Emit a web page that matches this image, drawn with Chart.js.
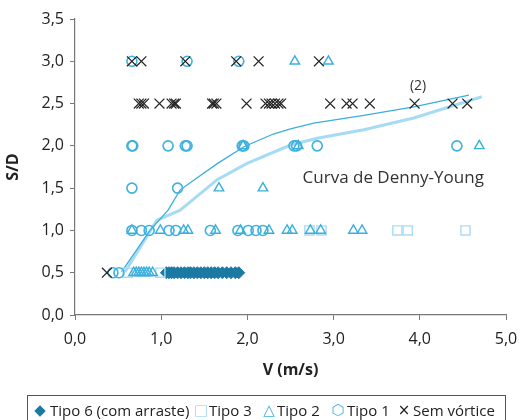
<!DOCTYPE html>
<html>
<head>
<meta charset="utf-8">
<script src="https://cdn.jsdelivr.net/npm/chart.js@4.4.1/dist/chart.umd.min.js"></script>
<style>
  body { margin: 0; background: #fff; }
  #wrap { position: relative; width: 529px; height: 420px; overflow: hidden; }
  #legend {
    position: absolute; left: 27px; top: 395px; width: 479px; height: 34px;
    border: 1px solid #555; box-sizing: border-box;
    font-family: "Open Sans", sans-serif; font-size: 15px; color: #222;
  }
  #legend span { position: absolute; top: 4px; white-space: nowrap; line-height: 20px; }
  #legend span.m { font-family: "DejaVu Sans", sans-serif; transform: translateX(-50%); }
</style>
</head>
<body>
<div id="wrap">
  <canvas id="chart" width="529" height="420"></canvas>
  <div id="legend">
    <span class="m" style="left:12px;color:#1b7aa3">◆</span><span style="left:22px">Tipo 6 (com arraste)</span>
    <span class="m" style="left:173px;color:#a9dbf3">□</span><span style="left:181px">Tipo 3</span>
    <span class="m" style="left:241px;color:#3aaedc">△</span><span style="left:249px">Tipo 2</span>
    <span class="m" style="left:310px;color:#3db1e0">⬡</span><span style="left:319px">Tipo 1</span>
    <span class="m" style="left:376px;color:#222">×</span><span style="left:385px">Sem vórtice</span>
  </div>
</div>
<script>
// Tipo 6 (com arraste)
const tipo6V  = [1.06, 1.09, 1.12, 1.15, 1.19, 1.23, 1.27, 1.31, 1.34, 1.38, 1.42, 1.46, 1.50, 1.54, 1.58, 1.62, 1.66, 1.71, 1.76, 1.81, 1.86, 1.90];
const tipo6SD = [0.5, 0.5, 0.5, 0.5, 0.5, 0.5, 0.5, 0.5, 0.5, 0.5, 0.5, 0.5, 0.5, 0.5, 0.5, 0.5, 0.5, 0.5, 0.5, 0.5, 0.5, 0.5];

// Tipo 3
const tipo3V  = [0.61, 0.99, 2.72, 2.86, 3.74, 3.86, 4.53];
const tipo3SD = [0.5, 0.5, 1.0, 1.0, 1.0, 1.0, 1.0];

// Tipo 2
const tipo2V  = [0.68, 0.71, 0.74, 0.77, 0.80, 0.83, 0.86, 0.90,
                 0.66, 0.99, 1.26, 1.31, 1.63, 1.92, 2.25, 2.46, 2.52, 2.73, 2.85, 3.23, 3.33,
                 1.67, 2.18,
                 1.95, 2.59, 4.69,
                 2.55, 2.94];
const tipo2SD = [0.5, 0.5, 0.5, 0.5, 0.5, 0.5, 0.5, 0.5,
                 1.0, 1.0, 1.0, 1.0, 1.0, 1.0, 1.0, 1.0, 1.0, 1.0, 1.0, 1.0, 1.0,
                 1.5, 1.5,
                 2.0, 2.0, 2.0,
                 3.0, 3.0];

// Tipo 1
const tipo1V  = [0.44, 0.51,
                 0.66, 0.77, 0.86, 1.09, 1.17, 1.57, 1.89, 2.01, 2.10, 2.18,
                 0.66, 1.19,
                 0.66, 0.67, 1.08, 1.28, 1.30, 1.94, 1.96, 2.54, 2.57, 2.81, 4.43,
                 0.66, 1.30, 1.90];
const tipo1SD = [0.5, 0.5,
                 1.0, 1.0, 1.0, 1.0, 1.0, 1.0, 1.0, 1.0, 1.0, 1.0,
                 1.5, 1.5,
                 2.0, 2.0, 2.0, 2.0, 2.0, 2.0, 2.0, 2.0, 2.0, 2.0, 2.0,
                 3.0, 3.0, 3.0];

// Sem vórtice
const semV  = [0.37,
               0.74, 0.77, 0.80, 0.98, 1.12, 1.15, 1.17, 1.59, 1.61, 1.64, 1.99,
               2.21, 2.25, 2.28, 2.32, 2.36, 2.39, 2.96, 3.15, 3.22, 3.42, 3.94, 4.38, 4.55,
               0.66, 0.77, 1.28, 1.87, 2.13, 2.83];
const semSD = [0.5,
               2.5, 2.5, 2.5, 2.5, 2.5, 2.5, 2.5, 2.5, 2.5, 2.5, 2.5,
               2.5, 2.5, 2.5, 2.5, 2.5, 2.5, 2.5, 2.5, 2.5, 2.5, 2.5, 2.5, 2.5,
               3.0, 3.0, 3.0, 3.0, 3.0, 3.0];

// Curva de Denny-Young (two traces)
const curvaAV  = [0.54, 0.87, 1.08, 1.22, 1.65, 1.96, 2.30, 2.50, 2.77, 3.35, 3.93, 4.57];
const curvaASD = [0.51, 1.00, 1.24, 1.48, 1.79, 1.99, 2.14, 2.20, 2.27, 2.36, 2.46, 2.60];
const curvaBV  = [0.58, 0.95, 1.22, 1.65, 1.99, 2.50, 2.81, 3.35, 3.93, 4.72];
const curvaBSD = [0.51, 1.12, 1.24, 1.60, 1.79, 2.01, 2.09, 2.19, 2.33, 2.58];

const xTicks = [0, 1, 2, 3, 4, 5];
const yTicks = [0, 0.5, 1, 1.5, 2, 2.5, 3, 3.5];

const pts = (xs, ys) => xs.map((x, i) => ({ x: x, y: ys[i] }));
const fmt = v => v.toFixed(1).replace('.', ',');

const labels = {
  id: 'labels',
  afterDatasetsDraw(chart) {
    const { ctx, scales } = chart;
    ctx.save();
    ctx.fillStyle = '#333';
    ctx.textBaseline = 'middle';
    ctx.font = '17px "Open Sans", sans-serif';
    ctx.textAlign = 'left';
    ctx.fillText('Curva de Denny-Young', scales.x.getPixelForValue(2.64), scales.y.getPixelForValue(1.62));
    ctx.font = '14px "Open Sans", sans-serif';
    ctx.textAlign = 'center';
    ctx.fillText('(2)', scales.x.getPixelForValue(3.98), scales.y.getPixelForValue(2.71));
    ctx.restore();
  }
};

const axisFont = { family: '"Open Sans", sans-serif', size: 16 };
const titleFont = { family: '"Open Sans", sans-serif', size: 16, weight: 'bold' };

new Chart(document.getElementById('chart'), {
  type: 'scatter',
  data: {
    datasets: [
      { label: 'Sem vórtice', data: pts(semV, semSD), pointStyle: 'crossRot', pointRadius: 7, borderColor: '#222', borderWidth: 1.2, order: 0 },
      { label: 'Tipo 1', data: pts(tipo1V, tipo1SD), pointStyle: 'circle', pointRadius: 5, borderColor: '#3db1e0', backgroundColor: 'rgba(0,0,0,0)', borderWidth: 1.6, order: 1 },
      { label: 'Tipo 2', data: pts(tipo2V, tipo2SD), pointStyle: 'triangle', pointRadius: 5.5, borderColor: '#3aaedc', backgroundColor: 'rgba(0,0,0,0)', borderWidth: 1.4, order: 2 },
      { label: 'Tipo 3', data: pts(tipo3V, tipo3SD), pointStyle: 'rect', pointRadius: 6.5, borderColor: '#a9dbf3', backgroundColor: 'rgba(0,0,0,0)', borderWidth: 1.4, order: 3 },
      { label: 'Tipo 6 (com arraste)', data: pts(tipo6V, tipo6SD), pointStyle: 'rectRot', pointRadius: 6, borderColor: '#1b7aa3', backgroundColor: '#1b7aa3', borderWidth: 1, order: 4 },
      { label: 'Curva A', data: pts(curvaAV, curvaASD), showLine: true, pointRadius: 0, borderColor: '#3aaedc', borderWidth: 1.3, fill: false, order: 6 },
      { label: 'Curva B', data: pts(curvaBV, curvaBSD), showLine: true, pointRadius: 0, borderColor: '#a6dbf4', borderWidth: 3, fill: false, order: 7 }
    ]
  },
  options: {
    responsive: false,
    animation: false,
    layout: { padding: { left: 0, right: 23, top: 19, bottom: 36 } },
    plugins: { legend: { display: false }, tooltip: { enabled: false } },
    scales: {
      x: {
        type: 'linear', min: 0, max: 5,
        afterBuildTicks: s => { s.ticks = xTicks.map(v => ({ value: v })); },
        afterFit: s => { s.height = 69; },
        ticks: { callback: v => fmt(v), color: '#222', font: axisFont, padding: 10, maxRotation: 0 },
        grid: { drawOnChartArea: false, color: '#777', tickLength: 5 },
        border: { color: '#777', width: 1.2 },
        title: { display: true, text: 'V (m/s)', color: '#222', font: titleFont }
      },
      y: {
        type: 'linear', min: 0, max: 3.5,
        afterBuildTicks: s => { s.ticks = yTicks.map(v => ({ value: v })); },
        afterFit: s => { s.width = 75; },
        ticks: { callback: v => fmt(v), color: '#222', font: axisFont, padding: 6 },
        grid: { drawOnChartArea: false, color: '#777', tickLength: 5 },
        border: { color: '#777', width: 1.2 },
        title: { display: true, text: 'S/D', color: '#222', font: titleFont }
      }
    }
  },
  plugins: [labels]
});
</script>
</body>
</html>
